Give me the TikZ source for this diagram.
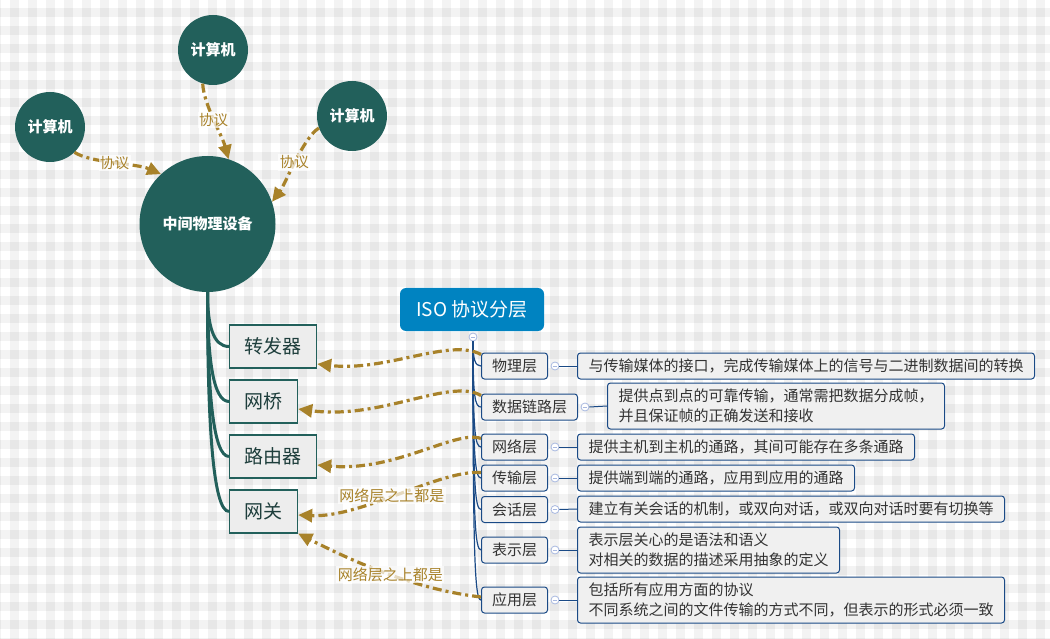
\documentclass[tikz,border=0pt]{standalone}
\usepackage{fontspec}
\setmainfont{Noto Sans CJK SC}
\usetikzlibrary{arrows.meta}
\definecolor{teal0}{HTML}{22605B}
\definecolor{teal1}{HTML}{1E3E3C}
\definecolor{gold0}{HTML}{A8822A}
\definecolor{isoblue}{HTML}{0083C1}
\definecolor{navy0}{HTML}{1A4A86}
\definecolor{boxgray}{HTML}{EDEDED}
\definecolor{boxgray2}{HTML}{F0F0F0}
\definecolor{txtdark}{HTML}{333333}
\definecolor{minusc}{HTML}{A8B8E0}
\begin{document}
\begin{tikzpicture}[x=1pt,y=-1pt,
  pc/.style={circle, fill=teal0, draw=none, text=white, font=\fontsize{15}{18}\selectfont\bfseries, inner sep=0pt, minimum size=70pt},
  bigc/.style={pc, minimum size=136pt},
  devbox/.style={rectangle, draw=teal0, line width=1.2pt, fill=boxgray, text=teal1, font=\fontsize{19}{22}\selectfont, inner xsep=15pt, inner ysep=0pt, minimum height=43pt, anchor=west},
  layerbox/.style={rectangle, rounded corners=3pt, draw=navy0, line width=1pt, fill=boxgray2, text=txtdark, font=\fontsize{15}{18}\selectfont, inner xsep=10.5pt, inner ysep=0pt, minimum height=26pt, anchor=west},
  descbox/.style={layerbox, inner xsep=11pt, align=left, font=\fontsize{15}{20}\selectfont},
  minus/.style={circle, draw=minusc, fill=white, line width=0.8pt, minimum size=8pt, inner sep=0pt, path picture={\draw[minusc, line width=0.8pt] ([xshift=-2.2pt]path picture bounding box.center) -- ([xshift=2.2pt]path picture bounding box.center);}},
  proto/.style={draw=gold0, line width=3.2pt, dash pattern=on 9pt off 4pt on 3pt off 4pt, -{Triangle[length=14pt,width=13pt]}},
  lbl/.style={text=gold0, font=\fontsize{14.5}{17}\selectfont, fill=white, fill opacity=0.7, text opacity=1, inner sep=1.5pt},
  lblwide/.style={lbl, font=\fontsize{15}{17}\selectfont},
  branch/.style={draw=teal0, line width=3pt},
  spine/.style={draw=navy0, line width=1.2pt},
]
\useasboundingbox (0,0) rectangle (1050,639);
% background gingham
\fill[white] (0,0) rectangle (1050,639);
\foreach \i in {-1,...,58} \fill[black, fill opacity=0.046] ({10+18*\i},0) rectangle ({19+18*\i},639);
\foreach \j in {-1,...,35} \fill[black, fill opacity=0.046] (0,{8+18*\j}) rectangle (1050,{17+18*\j});

% computers and hub
\node[pc] (c1) at (50,127) {计算机};
\node[pc] (c2) at (213,50) {计算机};
\node[pc] (c3) at (352,116) {计算机};
\node[bigc] (hub) at (207.5,224) {中间物理设备};

% device boxes
\node[devbox] (rep) at (229,346.5) {转发器};
\node[devbox] (brg) at (229,401.5) {网桥};
\node[devbox] (rtr) at (229,456.5) {路由器};
\node[devbox] (gw) at (229,511.5) {网关};

% branches
\draw[branch] (hub.south) .. controls +(0,33) and +(-16,0) .. (rep.west);
\draw[branch] (hub.south) .. controls +(0,66) and +(-16,0) .. (brg.west);
\draw[branch] (hub.south) .. controls +(0,99) and +(-16,0) .. (rtr.west);
\draw[branch] (hub.south) .. controls +(0,132) and +(-16,0) .. (gw.west);

% ISO header
\node[fill=isoblue, rounded corners=6pt, minimum width=144pt, minimum height=43pt, inner sep=0pt, text=white, font=\fontsize{19}{22}\selectfont] (iso) at (472,309.5) {ISO 协议分层};
\node[minus] (mi) at (473,337) {};

% layer boxes
\node[layerbox] (l1) at (481,366) {物理层};
\node[layerbox] (l2) at (481,407) {数据链路层};
\node[layerbox] (l3) at (481,447) {网络层};
\node[layerbox] (l4) at (481,478) {传输层};
\node[layerbox] (l5) at (481,509.5) {会话层};
\node[layerbox] (l6) at (481,550) {表示层};
\node[layerbox] (l7) at (481,600) {应用层};

% spine
\draw[spine] (mi.south) .. controls +(0,18) and +(-6,0) .. (l1.west);
\draw[spine] (mi.south) .. controls +(0,56) and +(-6,0) .. (l2.west);
\draw[spine] (mi.south) .. controls +(0,90) and +(-6,0) .. (l3.west);
\draw[spine] (mi.south) .. controls +(0,116) and +(-6,0) .. (l4.west);
\draw[spine] (mi.south) .. controls +(0,143) and +(-6,0) .. (l5.west);
\draw[spine] (mi.south) .. controls +(0,178) and +(-6,0) .. (l6.west);
\draw[spine] (mi.south) .. controls +(0,220) and +(-6,0) .. (l7.west);

% minus circles
\node[minus] (m1) at ([xshift=7pt]l1.east) {};
\node[minus] (m2) at ([xshift=7pt]l2.east) {};
\node[minus] (m3) at ([xshift=7pt]l3.east) {};
\node[minus] (m4) at ([xshift=7pt]l4.east) {};
\node[minus] (m5) at ([xshift=7pt]l5.east) {};
\node[minus] (m6) at ([xshift=7pt]l6.east) {};
\node[minus] (m7) at ([xshift=7pt]l7.east) {};

% descriptions
\node[descbox] (d1) at (577,366) {与传输媒体的接口，完成传输媒体上的信号与二进制数据间的转换};
\node[descbox, minimum height=46pt] (d2) at (607,406) {提供点到点的可靠传输，通常需把数据分成帧，\\并且保证帧的正确发送和接收};
\node[descbox] (d3) at (577,447) {提供主机到主机的通路，其间可能存在多条通路};
\node[descbox] (d4) at (577,478) {提供端到端的通路，应用到应用的通路};
\node[descbox] (d5) at (577,509) {建立有关会话的机制，或双向对话，或双向对话时要有切换等};
\node[descbox, minimum height=46pt] (d6) at (577,550) {表示层关心的是语法和语义\\对相关的数据的描述采用抽象的定义};
\node[descbox, minimum height=46pt] (d7) at (577,600) {包括所有应用方面的协议\\不同系统之间的文件传输的方式不同，但表示的形式必须一致};

\foreach \k in {1,...,7} \draw[navy0, line width=1pt] (m\k.east) -- (d\k.west);

% protocol connectors between computers and hub
\draw[proto] (c1.-46) .. controls +(17,11) and +(-25,-11) .. (hub.133) node[lbl, pos=0.5] {协议};
\draw[proto] (c2.-107) .. controls +(1,21) and +(-6.5,-24) .. (hub.72) node[lbl, pos=0.5] {协议};
\draw[proto] (c3.200) .. controls +(-16,10) and +(13,-17) .. (hub.19) node[lbl, pos=0.5] {协议};

% layer to device connectors
\draw[proto] ([yshift=-2pt]l1.north west) .. controls +(-31,-17) and +(69,8) .. ([yshift=-17.5pt]rep.east);
\draw[proto] ([yshift=-2pt]l2.north west) .. controls +(-31,-18) and +(83,11) .. ([yshift=-7.5pt]brg.east);
\draw[proto] ([yshift=-5pt]l3.north west) .. controls +(-26,-9) and +(79,7) .. ([yshift=-8.5pt]rtr.east);
\draw[proto] ([yshift=-8pt]l4.north west) .. controls +(-41,-3) and +(63,3) .. ([yshift=-3.5pt]gw.east) node[lblwide, pos=0.53] {网络层之上都是};
\draw[proto] ([yshift=3pt]l7.west) .. controls +(-61,-7) and +(63,32) .. (gw.south east) node[lblwide, pos=0.5] {网络层之上都是};
\end{tikzpicture}
\end{document}
